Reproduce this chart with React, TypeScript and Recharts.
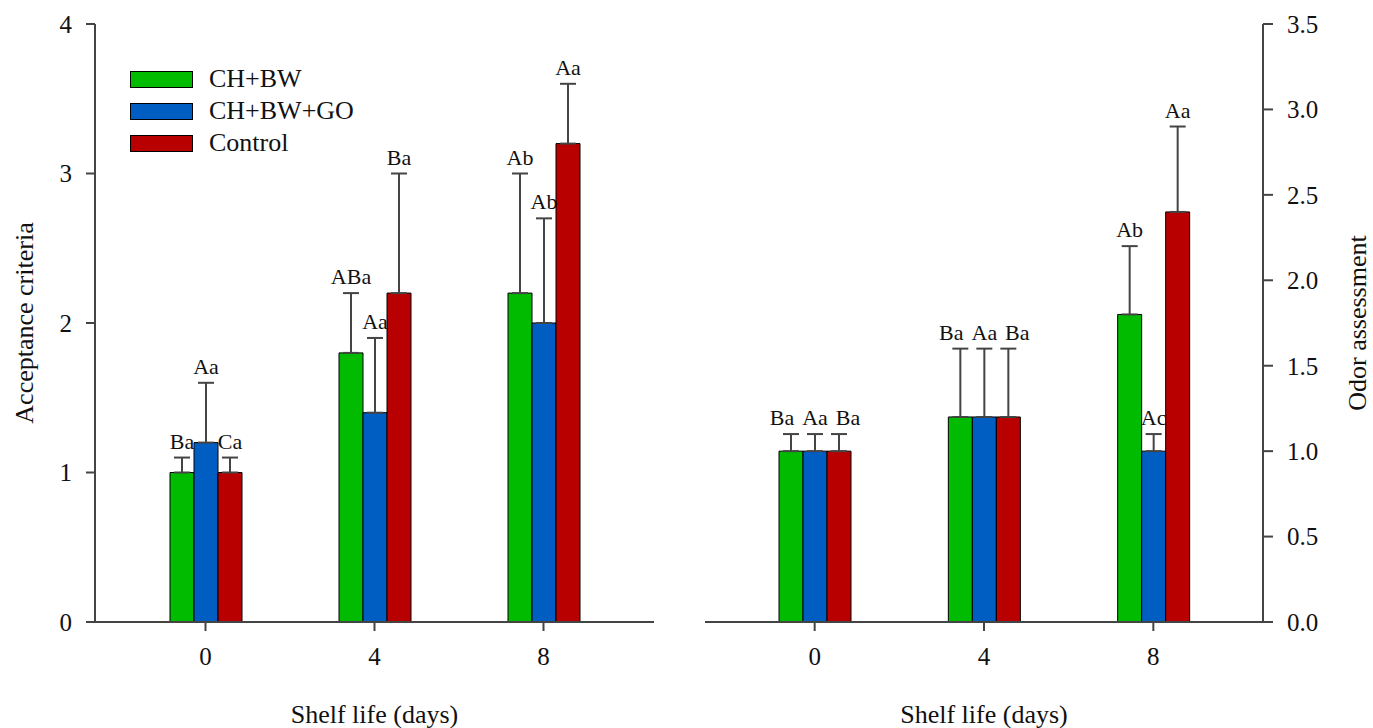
import React from 'react';
import { BarChart, Bar, XAxis, YAxis, ErrorBar, LabelList, Label, Legend } from 'recharts';

const days = ['0', '4', '8'];

// Panel A: Acceptance criteria
const accGreen = [1.0, 1.8, 2.2];
const accGreenUp = [1.1, 2.2, 3.0];
const accBlue = [1.2, 1.4, 2.0];
const accBlueUp = [1.6, 1.9, 2.7];
const accRed = [1.0, 2.2, 3.2];
const accRedUp = [1.1, 3.0, 3.6];
const accGreenLbl = ['Ba', 'ABa', 'Ab'];
const accBlueLbl = ['Aa', 'Aa', 'Ab'];
const accRedLbl = ['Ca', 'Ba', 'Aa'];

// Panel B: Odor assessment
const odGreen = [1.0, 1.2, 1.8];
const odGreenUp = [1.1, 1.6, 2.2];
const odBlue = [1.0, 1.2, 1.0];
const odBlueUp = [1.1, 1.6, 1.1];
const odRed = [1.0, 1.2, 2.4];
const odRedUp = [1.1, 1.6, 2.9];
const odGreenLbl = ['Ba', 'Ba', 'Ab'];
const odBlueLbl = ['Aa', 'Aa', 'Ac'];
const odRedLbl = ['Ba', 'Ba', 'Aa'];

const accTicks = [0, 1, 2, 3, 4];
const odTicks = [0, 0.5, 1, 1.5, 2, 2.5, 3, 3.5];

const seriesNames = ['CH+BW', 'CH+BW+GO', 'Control'];
const GREEN = '#00BB00';
const BLUE = '#005EC2';
const RED = '#B80000';
const AXIS = '#444444';
const FONT = '"Liberation Serif", "Times New Roman", serif';

const r2 = (v: number) => Math.round(v * 1000) / 1000;

const build = (g: number[], gu: number[], b: number[], bu: number[], r: number[], ru: number[], gl: string[], bl: string[], rl: string[]) =>
  days.map((d, i) => ({
    day: d,
    g: g[i], gErr: [0, r2(gu[i] - g[i])], gLbl: gl[i],
    b: b[i], bErr: [0, r2(bu[i] - b[i])], bLbl: bl[i],
    r: r[i], rErr: [0, r2(ru[i] - r[i])], rLbl: rl[i],
  }));

const accData = build(accGreen, accGreenUp, accBlue, accBlueUp, accRed, accRedUp, accGreenLbl, accBlueLbl, accRedLbl);
const odData = build(odGreen, odGreenUp, odBlue, odBlueUp, odRed, odRedUp, odGreenLbl, odBlueLbl, odRedLbl);

// Label placed above the error-bar cap; spread sideways when it would collide with the middle label
const makeLabel = (data: any[], key: string) => (props: any) => {
  const vb = props.viewBox || props;
  const x = Number(vb.x ?? props.x);
  const y = Number(vb.y ?? props.y);
  const w = Number(vb.width ?? props.width);
  const hRaw = Number(vb.height ?? props.height);
  const h = Math.abs(hRaw);
  const row = data[props.index];
  if (!row) return null;
  const val = row[key];
  const err = row[key + 'Err'][1];
  const unit = h / val;
  const top = Math.min(y, y + hRaw);
  const errY = top - err * unit;
  const midTop = row.b + row.bErr[1];
  const ownTop = val + err;
  let dx = 0;
  if (key === 'g' && Math.abs(ownTop - midTop) < 0.05) dx = -9;
  if (key === 'r' && Math.abs(ownTop - midTop) < 0.05) dx = 9;
  return (
    <text x={x + w / 2 + dx} y={errY - 9} textAnchor="middle" fontFamily={FONT} fontSize={22} fill="#111">
      {props.value}
    </text>
  );
};

const vTitle = (text: string, xPos: number) => (props: any) => {
  const vb = props.viewBox;
  const cy = vb.y + vb.height / 2;
  return (
    <text x={xPos} y={cy} transform={`rotate(-90, ${xPos}, ${cy})`} textAnchor="middle" dominantBaseline="central" fontFamily={FONT} fontSize={26} fill="#111">
      {text}
    </text>
  );
};

const hTitle = (text: string) => (props: any) => {
  const vb = props.viewBox;
  return (
    <text x={vb.x + vb.width / 2} y={723} textAnchor="middle" fontFamily={FONT} fontSize={26} fill="#111">
      {text}
    </text>
  );
};

const panelTag = (text: string) => (props: any) => {
  const vb = props.viewBox;
  return (
    <text x={vb.x + vb.width - 8} y={vb.y + 30} textAnchor="end" fontFamily={FONT} fontSize={25} fill="#111">
      {text}
    </text>
  );
};

const legendContent = (props: any) => {
  const payload = props.payload || [];
  return (
    <div style={{ fontFamily: FONT }}>
      {payload.map((p: any) => (
        <div key={p.value} style={{ display: 'flex', alignItems: 'center', height: 32 }}>
          <span style={{ display: 'inline-block', width: 61, height: 15, background: p.color, border: '1px solid #000', marginRight: 16 }} />
          <span style={{ fontSize: 26, color: '#111', lineHeight: '26px' }}>{p.value}</span>
        </div>
      ))}
    </div>
  );
};

const axisLine = { stroke: AXIS, strokeWidth: 2 };
const tickLine = { stroke: AXIS, strokeWidth: 2 };
const tickStyle = { fontFamily: FONT, fontSize: 25, fill: '#111' };

export default function App() {
  return (
    <div style={{ position: 'absolute', left: 0, top: 0, width: 1373, height: 728, background: '#fff' }}>
      <div style={{ position: 'absolute', left: 0, top: 0 }}>
        <BarChart width={700} height={728} data={accData} margin={{ top: 24, right: 46, bottom: 0, left: 0 }} barGap={0} barSize={24}>
          <XAxis dataKey="day" height={106} padding={{ left: 26, right: 26 }} axisLine={axisLine} tickLine={tickLine} tickSize={9} tickMargin={16} tick={tickStyle}>
            <Label content={hTitle('Shelf life (days)')} />
          </XAxis>
          <XAxis xAxisId="top" dataKey="day" orientation="top" height={0} tick={false} tickLine={false} axisLine={axisLine}>
            <Label content={panelTag('A.')} />
          </XAxis>
          <YAxis width={95} domain={[0, 4]} ticks={accTicks} axisLine={axisLine} tickLine={tickLine} tickSize={9} tickMargin={14} tick={tickStyle}>
            <Label content={vTitle('Acceptance criteria', 24)} />
          </YAxis>
          <YAxis yAxisId="border" orientation="right" width={0} tick={false} tickLine={false} axisLine={axisLine} />
          <Legend layout="vertical" align="center" verticalAlign="middle" content={legendContent} wrapperStyle={{ position: 'absolute', left: 130, top: 63, width: 300 }} />
          <Bar dataKey="g" name={seriesNames[0]} fill={GREEN} stroke="#000" strokeWidth={1} isAnimationActive={false}>
            <ErrorBar dataKey="gErr" width={8} stroke={AXIS} strokeWidth={2} direction="y" />
            <LabelList dataKey="gLbl" content={makeLabel(accData, 'g')} />
          </Bar>
          <Bar dataKey="b" name={seriesNames[1]} fill={BLUE} stroke="#000" strokeWidth={1} isAnimationActive={false}>
            <ErrorBar dataKey="bErr" width={8} stroke={AXIS} strokeWidth={2} direction="y" />
            <LabelList dataKey="bLbl" content={makeLabel(accData, 'b')} />
          </Bar>
          <Bar dataKey="r" name={seriesNames[2]} fill={RED} stroke="#000" strokeWidth={1} isAnimationActive={false}>
            <ErrorBar dataKey="rErr" width={8} stroke={AXIS} strokeWidth={2} direction="y" />
            <LabelList dataKey="rLbl" content={makeLabel(accData, 'r')} />
          </Bar>
        </BarChart>
      </div>
      <div style={{ position: 'absolute', left: 680, top: 0 }}>
        <BarChart width={693} height={728} data={odData} margin={{ top: 24, right: 0, bottom: 0, left: 25 }} barGap={0} barSize={24}>
          <XAxis dataKey="day" height={106} padding={{ left: 25, right: 25 }} axisLine={axisLine} tickLine={tickLine} tickSize={9} tickMargin={16} tick={tickStyle}>
            <Label content={hTitle('Shelf life (days)')} />
          </XAxis>
          <XAxis xAxisId="top" dataKey="day" orientation="top" height={0} tick={false} tickLine={false} axisLine={axisLine}>
            <Label content={panelTag('B.')} />
          </XAxis>
          <YAxis orientation="right" width={110} domain={[0, 3.5]} ticks={odTicks} tickFormatter={(v: number) => v.toFixed(1)} axisLine={axisLine} tickLine={tickLine} tickSize={10} tickMargin={14} tick={tickStyle}>
            <Label content={vTitle('Odor assessment', 677)} />
          </YAxis>
          <YAxis yAxisId="border" orientation="left" width={0} tick={false} tickLine={false} axisLine={axisLine} />
          <Bar dataKey="g" name={seriesNames[0]} fill={GREEN} stroke="#000" strokeWidth={1} isAnimationActive={false}>
            <ErrorBar dataKey="gErr" width={8} stroke={AXIS} strokeWidth={2} direction="y" />
            <LabelList dataKey="gLbl" content={makeLabel(odData, 'g')} />
          </Bar>
          <Bar dataKey="b" name={seriesNames[1]} fill={BLUE} stroke="#000" strokeWidth={1} isAnimationActive={false}>
            <ErrorBar dataKey="bErr" width={8} stroke={AXIS} strokeWidth={2} direction="y" />
            <LabelList dataKey="bLbl" content={makeLabel(odData, 'b')} />
          </Bar>
          <Bar dataKey="r" name={seriesNames[2]} fill={RED} stroke="#000" strokeWidth={1} isAnimationActive={false}>
            <ErrorBar dataKey="rErr" width={8} stroke={AXIS} strokeWidth={2} direction="y" />
            <LabelList dataKey="rLbl" content={makeLabel(odData, 'r')} />
          </Bar>
        </BarChart>
      </div>
    </div>
  );
}
